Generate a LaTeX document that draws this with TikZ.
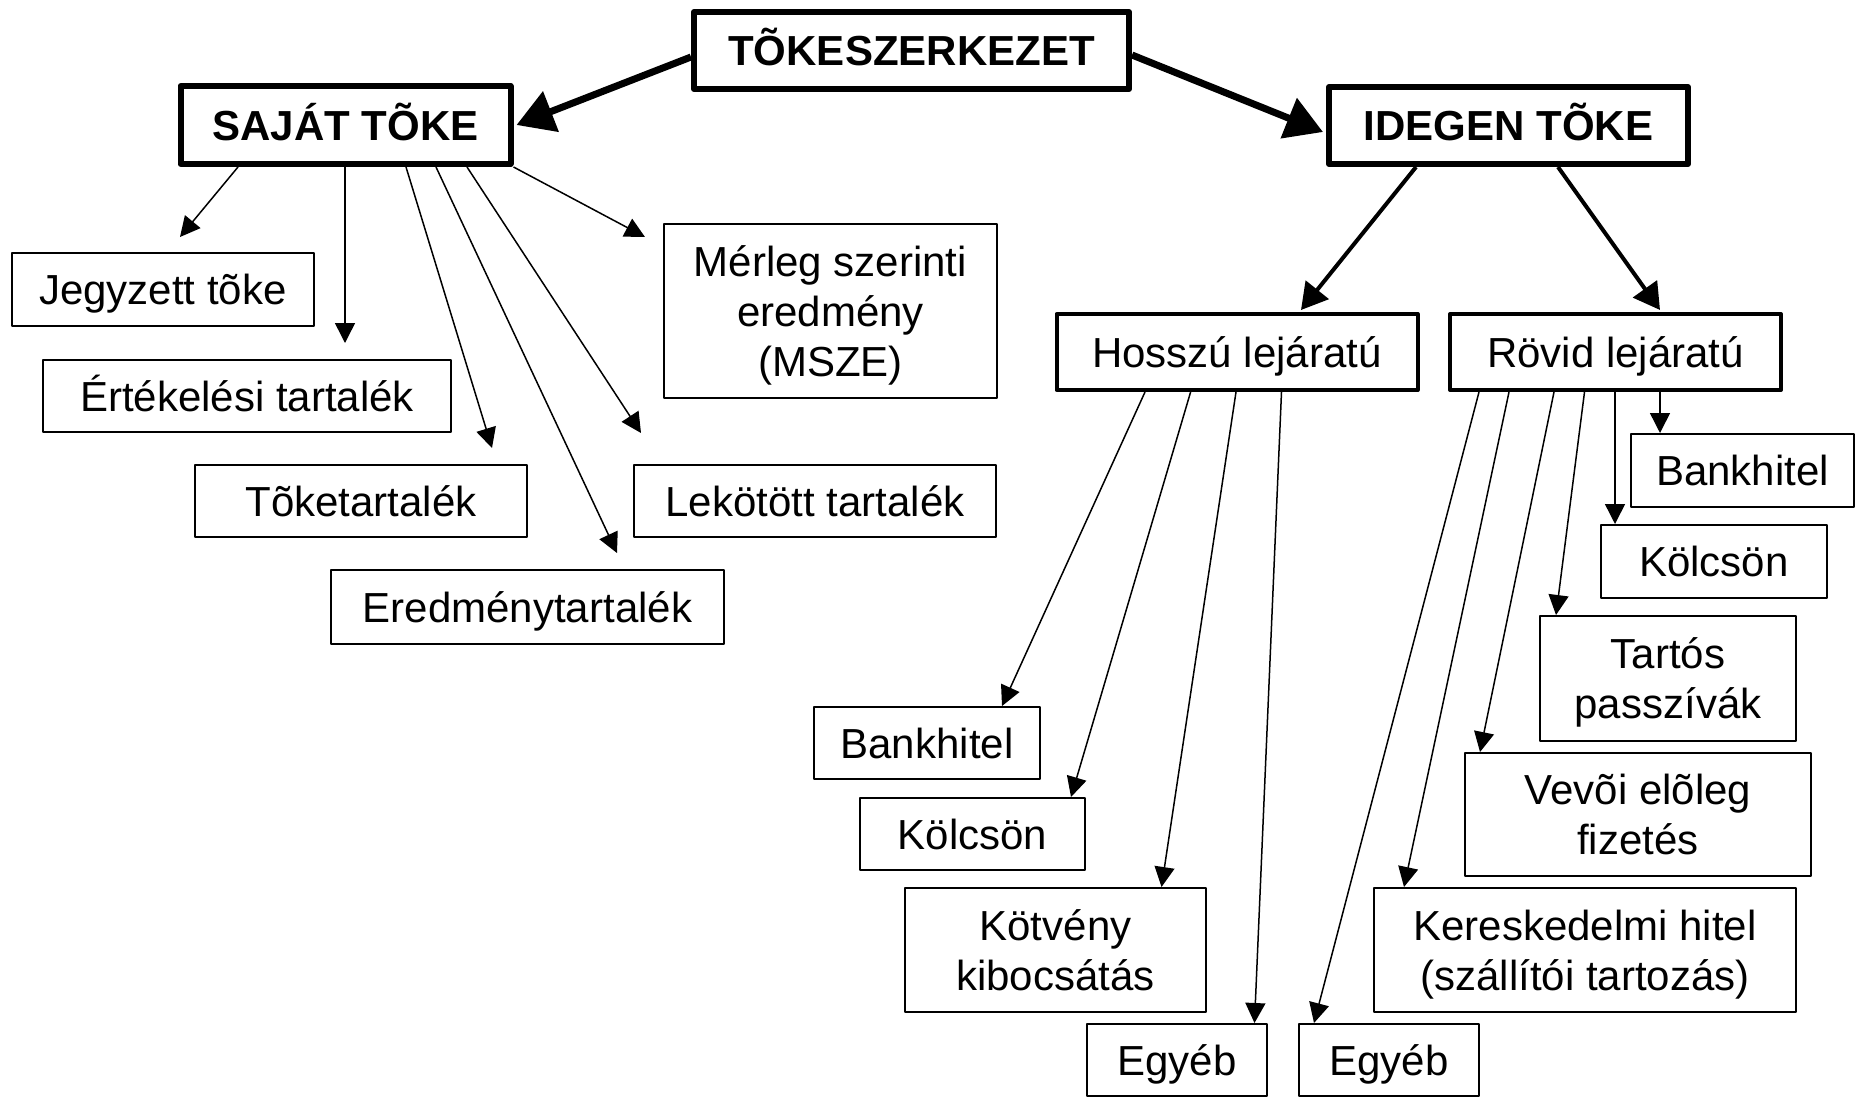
\documentclass[tikz,border=0pt]{standalone}
\usepackage{fontspec}
\setmainfont{Liberation Sans}
\usetikzlibrary{arrows.meta}
\newcommand{\sv}{\rule[-10pt]{0pt}{50pt}}
\tikzset{
  box/.style={draw, line width=2pt, line join=round, inner sep=0pt, align=center,
    font=\fontsize{42}{50}\selectfont},
  medbox/.style={box, line width=4pt},
  bigbox/.style={box, line width=6pt, font=\fontsize{42}{50}\selectfont\bfseries},
  arr/.style={line width=1.5pt, -{Triangle[length=20pt,width=20pt]}},
  medarr/.style={line width=4pt, -{Triangle[length=26pt,width=29pt]}},
  bigarr/.style={line width=7pt, -{Triangle[length=37pt,width=42pt]}},
}
\begin{document}
\begin{tikzpicture}[x=1pt,y=-1pt]
\useasboundingbox (0,0) rectangle (1856,1098);
% top level
\node[bigbox, minimum width=435pt, minimum height=77pt] (top) at (911.5,50.5) {\sv TÕKESZERKEZET};
\node[bigbox, minimum width=330pt, minimum height=78pt] (saj) at (345.5,125) {\sv SAJÁT TÕKE};
\node[bigbox, minimum width=359pt, minimum height=77pt] (ide) at (1508.5,125.5) {\sv IDEGEN TÕKE};
% own capital items
\node[box, minimum width=301.5pt, minimum height=73pt] (jegy) at (163,289.5) {\sv Jegyzett tõke};
\node[box, minimum width=408pt, minimum height=72pt] (ertek) at (247,396) {\sv Értékelési tartalék};
\node[box, minimum width=332pt, minimum height=72pt] (toket) at (361,501) {\sv Tõketartalék};
\node[box, minimum width=393pt, minimum height=74pt] (eredm) at (527.5,607) {\sv Eredménytartalék};
\node[box, minimum width=333pt, minimum height=174pt] (merleg) at (830.5,311) {\sv Mérleg szerinti\\\sv eredmény\\\sv (MSZE)};
\node[box, minimum width=362pt, minimum height=72pt] (lekot) at (815,501) {\sv Lekötött tartalék};
% foreign capital
\node[medbox, minimum width=361pt, minimum height=76pt] (hossz) at (1237,352) {\sv Hosszú lejáratú};
\node[medbox, minimum width=331pt, minimum height=76pt] (rovid) at (1615.5,352) {\sv Rövid lejáratú};
% short-term items
\node[box, minimum width=223pt, minimum height=73pt] (rbank) at (1742.5,470.5) {\sv Bankhitel};
\node[box, minimum width=226pt, minimum height=73pt] (rkolcs) at (1714,561.5) {\sv Kölcsön};
\node[box, minimum width=256pt, minimum height=125pt] (tartos) at (1668,678.5) {\sv Tartós\\\sv passzívák};
\node[box, minimum width=346pt, minimum height=123pt] (vevoi) at (1638,814.5) {\sv Vevõi elõleg\\\sv fizetés};
\node[box, minimum width=422pt, minimum height=124pt] (keresk) at (1585,950) {\sv Kereskedelmi hitel\\\sv (szállítói tartozás)};
\node[box, minimum width=180pt, minimum height=72pt] (regyeb) at (1389,1060) {\sv Egyéb};
% long-term items
\node[box, minimum width=180pt, minimum height=72pt] (legyeb) at (1177,1060) {\sv Egyéb};
\node[box, minimum width=301pt, minimum height=124pt] (kotveny) at (1055.5,950) {\sv Kötvény\\\sv kibocsátás};
\node[box, minimum width=225pt, minimum height=72pt] (lkolcs) at (972.5,834) {\sv Kölcsön};
\node[box, minimum width=226pt, minimum height=72pt] (lbank) at (927,743) {\sv Bankhitel};
% free arrow ends below SAJÁT TÕKE
\coordinate (tjegy) at (180,237);
\coordinate (tertek) at (345,343);
\coordinate (ttoket) at (492,448);
\coordinate (teredm) at (617,553);
\coordinate (tlekot) at (641,433);
\coordinate (tmerleg) at (645,237);
% big arrows
\draw[bigarr] ([yshift=-6.5pt]top.west) -- ([xshift=3pt]saj.east);
\draw[bigarr] ([yshift=-4.5pt]top.east) -- ([xshift=-3pt,yshift=-6.5pt]ide.west);
% medium arrows
\draw[medarr] ([xshift=-92.5pt]ide.south) -- ([xshift=64pt,yshift=2pt]hossz.north);
\draw[medarr] ([xshift=49.5pt]ide.south) -- ([xshift=44.5pt,yshift=2pt]rovid.north);
% own capital arrows
\draw[arr] ([xshift=-107.5pt]saj.south) -- (tjegy);
\draw[arr] ([xshift=-0.5pt]saj.south) -- (tertek);
\draw[arr] ([xshift=60.5pt]saj.south) -- (ttoket);
\draw[arr] ([xshift=90.5pt]saj.south) -- (teredm);
\draw[arr] ([xshift=121.5pt]saj.south) -- (tlekot);
\draw[arr] (saj.south east) -- (tmerleg);
% long-term arrows
\draw[arr] ([xshift=-92pt]hossz.south) -- ([xshift=75pt]lbank.north);
\draw[arr] ([xshift=-46.4pt]hossz.south) -- ([xshift=98.5pt]lkolcs.north);
\draw[arr] ([xshift=-1pt]hossz.south) -- ([xshift=106pt]kotveny.north);
\draw[arr] ([xshift=44.5pt]hossz.south) -- ([xshift=77.5pt]legyeb.north);
% short-term arrows
\draw[arr] ([xshift=-136.5pt]rovid.south) -- ([xshift=-75pt]regyeb.north);
\draw[arr] ([xshift=-106.5pt]rovid.south) -- ([xshift=-181pt]keresk.north);
\draw[arr] ([xshift=-61.5pt]rovid.south) -- ([xshift=-158pt]vevoi.north);
\draw[arr] ([xshift=-31pt]rovid.south) -- ([xshift=-112pt]tartos.north);
\draw[arr] ([xshift=-0.5pt]rovid.south) -- ([xshift=-99pt]rkolcs.north);
\draw[arr] ([xshift=44.5pt]rovid.south) -- ([xshift=-82.5pt]rbank.north);
\end{tikzpicture}
\end{document}
